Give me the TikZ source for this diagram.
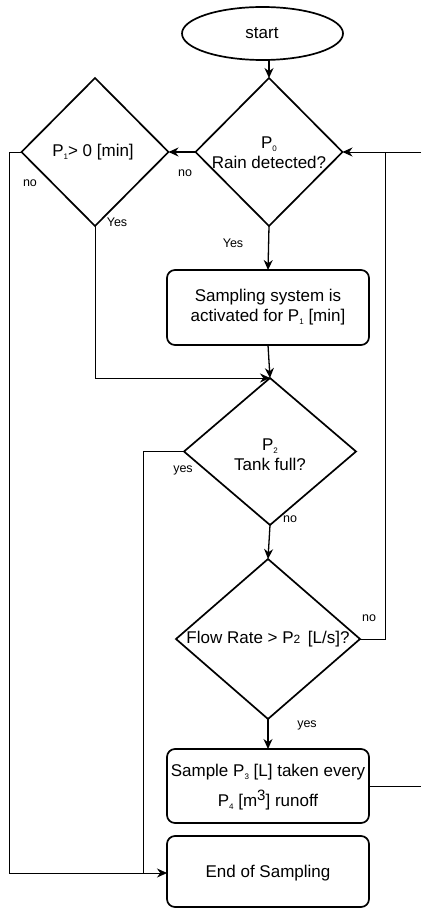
\documentclass[tikz,border=0pt]{standalone}
\usepackage{fontspec}
\setmainfont{Liberation Sans}
\usetikzlibrary{shapes.geometric,arrows.meta}
% small lowered index, as in P_0
\newcommand{\psub}[1]{\raisebox{-3pt}{\fontsize{8}{8}\selectfont #1}}
\begin{document}
\begin{tikzpicture}[x=1pt,y=-1pt,
  shapeline/.style={draw=black,line width=1.7pt},
  decision/.style={shapeline,diamond,inner sep=0pt,outer sep=0pt},
  process/.style={shapeline,rectangle,rounded corners=8pt,minimum width=202pt,inner sep=0pt,outer sep=0pt},
  txt/.style={font=\fontsize{17}{20}\selectfont,align=center,inner sep=0pt},
  lbl/.style={font=\fontsize{12.5}{14}\selectfont,inner sep=0pt},
  mainarrow/.style={line width=1.3pt,-{Stealth[length=10pt,width=9pt]}},
  sidearrow/.style={line width=0.8pt,-{Stealth[length=10pt,width=9pt]}},
  sideline/.style={line width=0.8pt},
]
\useasboundingbox[fill=white] (0,0) rectangle (421,909);

% terminal and decisions
\node[shapeline,ellipse,minimum width=161pt,minimum height=53pt,inner sep=0pt,outer sep=0pt] (start) at (262.5,33.5) {};
\node[txt] (startt) at (262,33) {start};

\node[decision,minimum width=147pt,minimum height=148pt] (p0) at (269,152) {};
\node[txt] (p0t) at (269,153) {P\psub{0}\\Rain detected?};

\node[decision,minimum width=147pt,minimum height=148pt] (p1) at (95,152) {};
\node[txt] (p1t) at (93,152) {P\psub{1}> 0 [min]};

\node[process,minimum height=75pt] (act) at (268,307.5) {};
\node[txt] (actt) at (268,307) {Sampling system is\\activated for P\psub{1} [min]};

\node[decision,minimum width=172pt,minimum height=147pt] (p2) at (270,451.5) {};
\node[txt] (p2t) at (270,455) {P\psub{2}\\Tank full?};

\node[decision,minimum width=184pt,minimum height=160pt] (fr) at (268,639) {};
\node[txt] (frt) at (268,639) {Flow Rate > P{\fontsize{12}{12}\selectfont 2}\, [L/s]?};

\node[process,minimum height=74pt] (smp) at (268,786) {};
\node[txt,font=\fontsize{17}{30}\selectfont] (smpt) at (268,787)
  {Sample P\psub{3} [L] taken every\\P\psub{4} [m\raisebox{6pt}{\fontsize{15}{15}\selectfont 3}] runoff};

\node[process,minimum height=71pt] (end) at (268,871.5) {};
\node[txt] (endt) at (268,873) {End of Sampling};

% helper points on the outer loops
\coordinate (jn) at (143,873);
\coordinate (edgeA) at (421,152);
\coordinate (edgeB) at (421,786);

% main column
\draw[mainarrow] (p0.north |- start.south) -- (p0.north);
\draw[mainarrow] (p0.west) -- (p1.east);
\draw[mainarrow] (p0.south) -- (act.north);
\draw[mainarrow] (act.south) -- (p2.north);
\draw[mainarrow] (p2.south) -- (fr.north);
\draw[mainarrow] (fr.south) -- (smp.north);

% side loops
\draw[sidearrow] (p1.south) |- (p2.north);
\draw[sidearrow] (p1.west) -- (9,152) |- (end.west |- jn);
\draw[sideline] (p2.west) -| (jn);
\draw[sidearrow] (fr.east) -| (385,152) -- (p0.east);
\draw[sideline] (edgeA) -- (385,152);
\draw[sideline] (smp.east) -- (edgeB);

% branch labels
\node[lbl] (l1) at (185,173) {no};
\node[lbl] (l2) at (30,183) {no};
\node[lbl] (l3) at (117,222) {Yes};
\node[lbl] (l4) at (233,243) {Yes};
\node[lbl] (l5) at (183,470) {yes};
\node[lbl] (l6) at (290,519) {no};
\node[lbl] (l7) at (369,618) {no};
\node[lbl] (l8) at (307,725) {yes};
\end{tikzpicture}
\end{document}
